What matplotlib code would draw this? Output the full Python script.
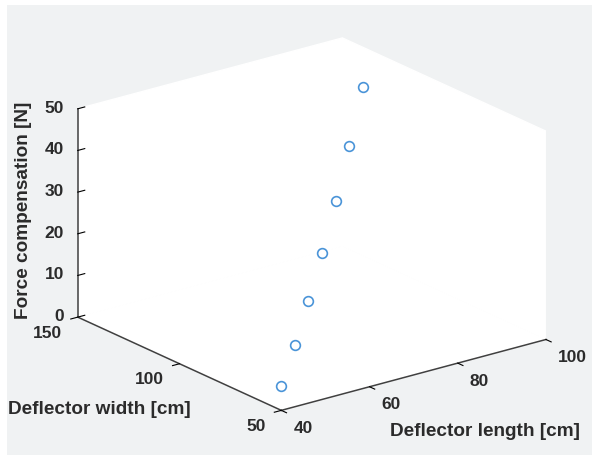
import matplotlib
matplotlib.use("Agg")
import matplotlib.pyplot as plt
from matplotlib.patches import Rectangle

plt.rcParams['font.family'] = ['Liberation Sans', 'DejaVu Sans']

# deflector sweep
length = [40, 50, 60, 70, 80, 90, 100]
width = [50, 65, 80, 95, 110, 125, 140]
force = [5.8, 9.6, 13.9, 19.1, 25.4, 32.6, 40.4]

length_ticks = [40, 60, 80, 100]
width_ticks = [50, 100, 150]
force_ticks = [0, 10, 20, 30, 40, 50]

W, H = 592, 455
fig = plt.figure(figsize=(W / 100, H / 100), dpi=100, facecolor='white')
fig.add_artist(Rectangle((7 / W, 0), (W - 7) / W, (H - 5) / H, transform=fig.transFigure,
                         facecolor='#f0f2f3', edgecolor='none', zorder=-5))

S = 507
cx, cy = 305, 231
ax = fig.add_axes([(cx - S / 2) / W, 1 - (cy + S / 2) / H, S / W, S / H], projection='3d', proj_type='ortho')
ax.patch.set_alpha(0)
ax.view_init(elev=20.5, azim=-127.4)
ax.set_box_aspect((334, 336, 223))

ax.plot(length, width, force, linestyle='none', marker='o', markersize=7,
        markerfacecolor='none', markeredgecolor='#4a94d8', markeredgewidth=1.2)

ax.set_xlim(40, 100, view_margin=0)
ax.set_ylim(50, 150, view_margin=0)
ax.set_zlim(0, 50, view_margin=0)
ax.set_xticks(length_ticks)
ax.set_yticks(width_ticks)
ax.set_zticks(force_ticks)
ax.grid(False)

for axis in (ax.xaxis, ax.yaxis, ax.zaxis):
    axis.set_pane_color('white')
    axis.pane.set_edgecolor('white')
    axis.line.set_color('#404040')
    axis.line.set_linewidth(1.1)
    axis._axinfo['tick']['color'] = '#404040'

# ticks point out of the box
ax.xaxis._axinfo['tick']['inward_factor'] = 0.32
ax.xaxis._axinfo['tick']['outward_factor'] = 0.0
ax.yaxis._axinfo['tick']['inward_factor'] = 0.33
ax.yaxis._axinfo['tick']['outward_factor'] = 0.0
ax.zaxis._axinfo['tick']['inward_factor'] = 0.0
ax.zaxis._axinfo['tick']['outward_factor'] = 0.33

aligns = {ax.xaxis: ('left', 3.3), ax.yaxis: ('right', 3), ax.zaxis: ('right', -2.4)}
for axis, (ha, pad) in aligns.items():
    axis.set_tick_params(labelsize=12.5, labelcolor='#2b2b2b', pad=pad)
    for lab in axis.get_ticklabels():
        lab.set_fontweight('bold')
        lab.set_horizontalalignment(ha)
        lab.set_verticalalignment('center')

fig.text(8 / W, 1 - 409.5 / H, 'Deflector width [cm]', fontsize=13.7, fontweight='bold',
         color='#2b2b2b', ha='left', va='center')
fig.text(390 / W, 1 - 431 / H, 'Deflector length [cm]', fontsize=13.7, fontweight='bold',
         color='#2b2b2b', ha='left', va='center')
fig.text(23.5 / W, 1 - 210.5 / H, 'Force compensation [N]', fontsize=13.7, fontweight='bold',
         color='#2b2b2b', rotation=90, ha='center', va='center')

fig.savefig('out.png', dpi=100)
